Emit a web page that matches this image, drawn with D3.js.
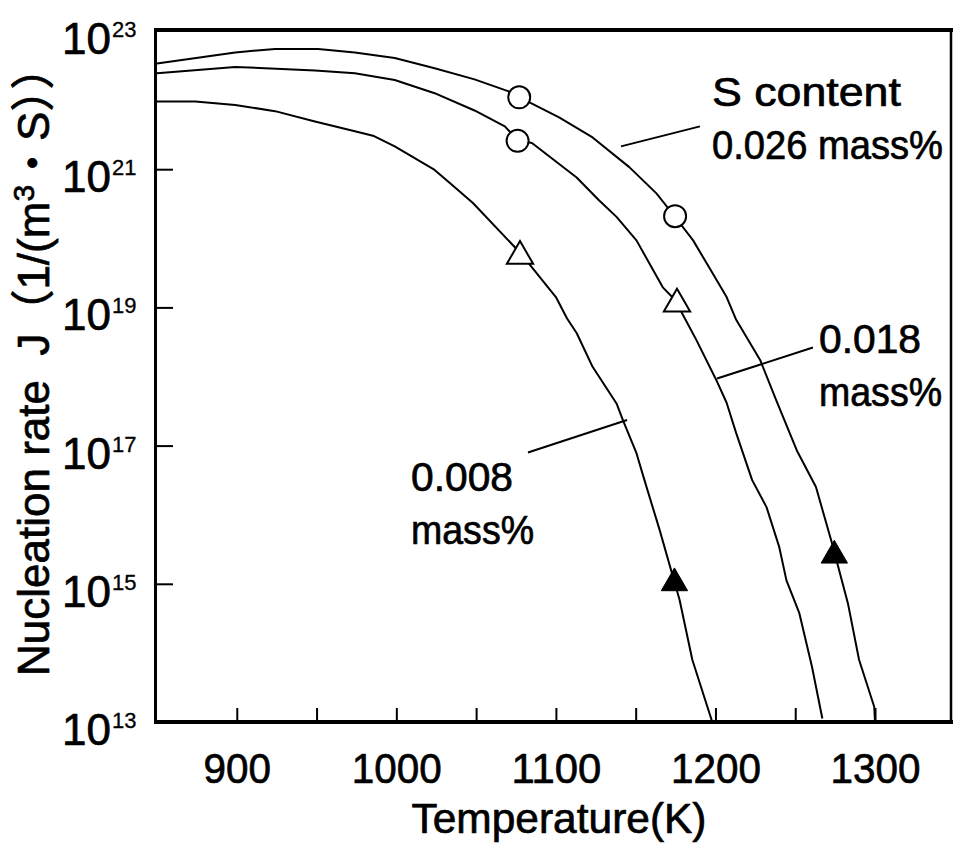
<!DOCTYPE html>
<html>
<head>
<meta charset="utf-8">
<script src="https://cdn.jsdelivr.net/npm/d3@7"></script>
<style>
  html, body { margin: 0; padding: 0; background: #fff; }
  svg { display: block; }
  text { white-space: pre; }
</style>
</head>
<body>
<svg id="chart" width="953" height="849"></svg>
<script>
// Nucleation rate J (log10 of 1/(m^3·s)) against temperature, three S contents.
const tempK026 = [850, 899, 924, 951, 974, 999, 1024, 1049, 1070, 1077, 1085, 1102, 1123, 1146, 1163, 1174, 1186, 1196, 1207, 1213, 1228, 1238, 1251, 1263, 1273, 1283, 1290, 1299.5, 1300];
const logJ026  = [22.53, 22.69, 22.74, 22.74, 22.69, 22.61, 22.46, 22.30, 22.13, 22.04, 21.95, 21.75, 21.46, 21.03, 20.65, 20.33, 19.97, 19.58, 19.15, 18.82, 18.24, 17.66, 16.93, 16.40, 15.59, 14.72, 13.90, 13.22, 13.0];

const tempK018 = [850, 899, 949, 974, 999, 1024, 1049, 1068, 1076, 1085, 1113, 1127, 1138, 1150.5, 1167, 1175.5, 1179, 1188, 1200.5, 1207, 1213, 1223, 1232, 1240, 1244.5, 1252.5, 1260.5, 1267];
const logJ018  = [22.39, 22.48, 22.43, 22.39, 22.29, 22.10, 21.85, 21.62, 21.42, 21.38, 20.88, 20.55, 20.31, 19.97, 19.29, 19.09, 18.92, 18.53, 17.95, 17.62, 17.18, 16.50, 16.11, 15.53, 15.05, 14.58, 13.80, 13.05];

const tempK008 = [850, 874, 899, 924, 949, 974, 986, 999, 1024, 1035, 1048, 1078, 1085, 1100, 1107, 1113, 1123, 1138, 1142, 1150.5, 1155.5, 1165, 1174, 1177.5, 1185.5, 1198];
const logJ008  = [21.98, 21.98, 21.93, 21.84, 21.69, 21.55, 21.48, 21.33, 20.99, 20.77, 20.51, 19.78, 19.58, 19.15, 18.84, 18.63, 18.14, 17.61, 17.37, 16.89, 16.50, 15.78, 15.05, 14.77, 13.90, 13.0];

// Marked points on the curves
const markerTempK = [1077, 1076, 1174.7, 1077.5, 1175.9, 1174.3, 1274.5];
const markerLogJ  = [22.04, 21.41, 20.32, 19.74, 19.05, 15.01, 15.41];
const markerKind  = ["circle", "circle", "circle", "triangle", "triangle", "filledTriangle", "filledTriangle"];

// Curve labels: text lines, anchor (T, log10 J) and leader line ends
const labelLines   = [["S content", "0.026 mass%"], ["0.018", "mass%"], ["0.008", "mass%"]];
const labelTempK   = [1197.8, 1264.9, 1009.2];
const labelLogJ    = [21.91, 18.34, 16.35];
const leaderFrom   = [[1140.8, 21.33], [1201.0, 17.97], [1082.5, 16.90]];
const leaderTo     = [[1190.3, 21.62], [1261.1, 18.42], [1144.6, 17.37]];

// Axes
const xTickValues = d3.range(900, 1301, 50);
const xLabelValues = [900, 1000, 1100, 1200, 1300];
const yLabelExponents = [13, 15, 17, 19, 21, 23];
const yTickExponents = [15, 17, 19, 21];
const xTitle = "Temperature(K)";

const svg = d3.select("#chart");
const x = d3.scaleLinear().domain([850, 1347]).range([157, 950]);
const y = d3.scaleLog().domain([1e13, 1e23]).range([722, 31]);
const Y = e => y(Math.pow(10, e));
const latin = "'Liberation Sans', Arial, 'Noto Sans CJK JP', sans-serif";
const heavy = sel => sel.attr("stroke", "#000").attr("stroke-width", 0.7).attr("stroke-linejoin", "round");

svg.append("rect").attr("width", 953).attr("height", 849).attr("fill", "#fff");

// ---- ticks (inward) ----
const xAxis = d3.axisBottom(x)
  .tickValues(xTickValues)
  .tickSizeInner(-14).tickSizeOuter(0)
  .tickPadding(30)
  .tickFormat(d => xLabelValues.includes(d) ? String(d) : "");
const gx = svg.append("g").attr("transform", `translate(0,${y.range()[0]})`).call(xAxis);
gx.select(".domain").remove();
gx.selectAll(".tick line").attr("stroke", "#000").attr("stroke-width", 2);
gx.selectAll(".tick text")
  .attr("font-family", latin).attr("font-size", 43).attr("fill", "#000")
  .call(heavy)
  .each(function(d) {
    const s = xLabelValues.includes(d) ? String(d) : "";
    if (s) d3.select(this).attr("textLength", s.length * 22.5).attr("lengthAdjust", "spacingAndGlyphs");
  });

const yAxis = d3.axisLeft(y)
  .tickValues(yTickExponents.map(e => Math.pow(10, e)))
  .tickSizeInner(-16).tickSizeOuter(0)
  .tickFormat("");
const gy = svg.append("g").attr("transform", `translate(${x.range()[0]},0)`).call(yAxis);
gy.select(".domain").remove();
gy.selectAll(".tick line").attr("stroke", "#000").attr("stroke-width", 2);

// y tick labels as 10 with superscript exponent
const yl = svg.append("g").attr("font-family", latin).attr("fill", "#000");
yLabelExponents.forEach(e => {
  const ty = Y(e);
  yl.append("text").attr("x", 111).attr("y", ty + 23)
    .attr("text-anchor", "end").attr("font-size", 44)
    .call(heavy)
    .text("10");
  yl.append("text").attr("x", 112).attr("y", ty + 6)
    .attr("font-size", 22)
    .attr("stroke", "#000").attr("stroke-width", 0.3)
    .text(String(e));
});

// ---- frame ----
const [x0, x1] = x.range();
const [yb, yt] = y.range();
const frame = svg.append("g").attr("stroke", "#000").attr("fill", "none");
frame.append("line").attr("x1", x0 - 1.5).attr("x2", x0 - 1.5).attr("y1", yt - 3).attr("y2", yb + 2).attr("stroke-width", 3);
frame.append("line").attr("x1", x0 - 3).attr("x2", 953).attr("y1", yt - 1).attr("y2", yt - 1).attr("stroke-width", 4);
frame.append("line").attr("x1", x0 - 3).attr("x2", 953).attr("y1", yb).attr("y2", yb).attr("stroke-width", 4);
frame.append("line").attr("x1", x1 + 1).attr("x2", x1 + 1).attr("y1", yt - 1).attr("y2", yb).attr("stroke-width", 2.5);

// ---- curves ----
const line = d3.line().x(d => x(d[0])).y(d => Y(d[1]));
const series = [
  d3.zip(tempK026, logJ026),
  d3.zip(tempK018, logJ018),
  d3.zip(tempK008, logJ008)
];
svg.append("g").selectAll("path").data(series).join("path")
  .attr("d", line).attr("fill", "none").attr("stroke", "#000")
  .attr("stroke-width", 2).attr("stroke-linejoin", "round");

// ---- leader lines ----
svg.append("g").selectAll("line").data(d3.range(leaderFrom.length)).join("line")
  .attr("x1", i => x(leaderFrom[i][0])).attr("y1", i => Y(leaderFrom[i][1]))
  .attr("x2", i => x(leaderTo[i][0])).attr("y2", i => Y(leaderTo[i][1]))
  .attr("stroke", "#000").attr("stroke-width", 2);

// ---- markers ----
const tri = d3.symbol(d3.symbolTriangle, 300);
const mk = svg.append("g");
markerKind.forEach((k, i) => {
  const cx = x(markerTempK[i]), cy = Y(markerLogJ[i]);
  if (k === "circle") {
    mk.append("circle").attr("cx", cx).attr("cy", cy).attr("r", 11)
      .attr("fill", "#fff").attr("stroke", "#000").attr("stroke-width", 2);
  } else {
    mk.append("path").attr("d", tri()).attr("transform", `translate(${cx},${cy})`)
      .attr("fill", k === "filledTriangle" ? "#000" : "#fff")
      .attr("stroke", "#000").attr("stroke-width", k === "filledTriangle" ? 1 : 2)
      .attr("stroke-linejoin", "miter");
  }
});

// ---- curve labels ----
const lab = svg.append("g").attr("font-family", latin).attr("font-size", 40).attr("fill", "#000");
labelLines.forEach((lines, i) => {
  lines.forEach((t, j) => {
    const w = t.length * (t.startsWith("0.") && t.length <= 5 ? 20.4 : (t === "mass%" ? 24.6 : 21));
    lab.append("text")
      .attr("x", x(labelTempK[i])).attr("y", Y(labelLogJ[i]) + j * 53)
      .attr("textLength", w).attr("lengthAdjust", "spacingAndGlyphs")
      .call(heavy)
      .text(t);
  });
});

// ---- axis titles ----
svg.append("text").attr("x", 559).attr("y", 833)
  .attr("text-anchor", "middle").attr("font-family", latin).attr("font-size", 42)
  .attr("textLength", 295).attr("lengthAdjust", "spacingAndGlyphs")
  .call(heavy)
  .text(xTitle);

const yt_ = svg.append("text")
  .attr("transform", "translate(49,676) rotate(-90)")
  .attr("font-family", latin).attr("font-size", 44).attr("fill", "#000")
  .call(heavy);
yt_.append("tspan").text("Nucleation rate  J（1/(m");
yt_.append("tspan").attr("font-size", 30).attr("dy", -15).text("3");
yt_.append("tspan").attr("dy", 15).text("・S））");
</script>
</body>
</html>
